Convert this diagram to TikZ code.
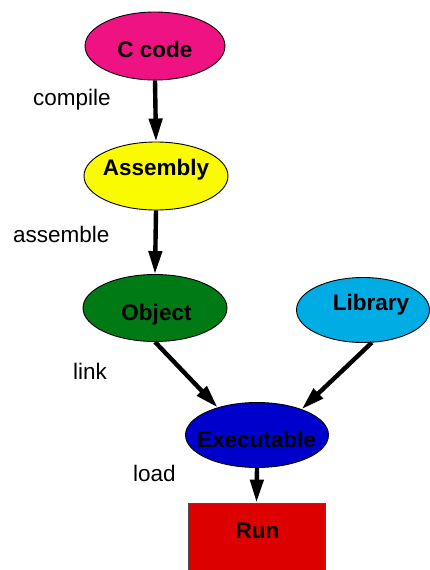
\documentclass[tikz,border=0pt]{standalone}
\usepackage{fontspec}
\setmainfont{Liberation Sans}
\usetikzlibrary{shapes.geometric,arrows.meta}
\definecolor{cpink}{RGB}{238,18,130}
\definecolor{asmyellow}{RGB}{250,250,0}
\definecolor{objgreen}{RGB}{0,122,20}
\definecolor{libcyan}{RGB}{0,172,228}
\definecolor{exeblue}{RGB}{0,0,205}
\definecolor{runred}{RGB}{220,0,0}
\tikzset{
  stage/.style={ellipse, draw=black, line width=0.9pt, inner sep=0pt},
  stagetext/.style={anchor=base, font=\fontsize{22.5}{26}\selectfont\bfseries, inner sep=0pt},
  steplabel/.style={anchor=base west, font=\fontsize{22.5}{26}\selectfont, inner sep=0pt},
  flow/.style={line width=4.4pt, -{Triangle[length=23pt,width=13pt]}},
}
\begin{document}
\begin{tikzpicture}[x=1pt,y=-1pt]
\useasboundingbox (0,0) rectangle (430,570);
\begin{scope}
\clip (0,0) rectangle (430,570);
% stages of the toolchain
\node[stage, fill=cpink, minimum width=140pt, minimum height=68pt] (c) at (155,46) {};
\node[stage, fill=asmyellow, minimum width=144pt, minimum height=68pt] (a) at (156,176) {};
\node[stage, fill=objgreen, minimum width=144pt, minimum height=67pt] (o) at (155,308) {};
\node[stage, fill=libcyan, minimum width=133pt, minimum height=65pt] (l) at (363,310) {};
\node[stage, fill=exeblue, minimum width=143pt, minimum height=65pt] (x) at (257,435) {};
\node[draw=black!70, line width=0.8pt, fill=runred, minimum width=137pt, minimum height=70pt, inner sep=0pt] (r) at (256.5,538) {};
\end{scope}
% stage names
\node[stagetext] (ct) at (155,57) {C code};
\node[stagetext] (at) at (156,175) {Assembly};
\node[stagetext] (ot) at (156.5,320) {Object};
\node[stagetext] (lt) at (371,310) {Library};
\node[stagetext] (xt) at (256.5,447) {Executable};
\node[stagetext] (rt) at (257.5,538) {Run};
% step names
\node[steplabel] (compile) at (33,105) {compile};
\node[steplabel] (assemble) at (13,242) {assemble};
\node[steplabel] (link) at (73,379) {link};
\node[steplabel] (load) at (133,481) {load};
% connectors
\draw[flow] (c.south) -- (a.north);
\draw[flow] (a.south) -- (o.north);
\draw[flow] (o.south) -- (x.145);
\draw[flow] (l.-75) -- (x.30);
\draw[flow] (x.south) -- (r.north);
\end{tikzpicture}
\end{document}
